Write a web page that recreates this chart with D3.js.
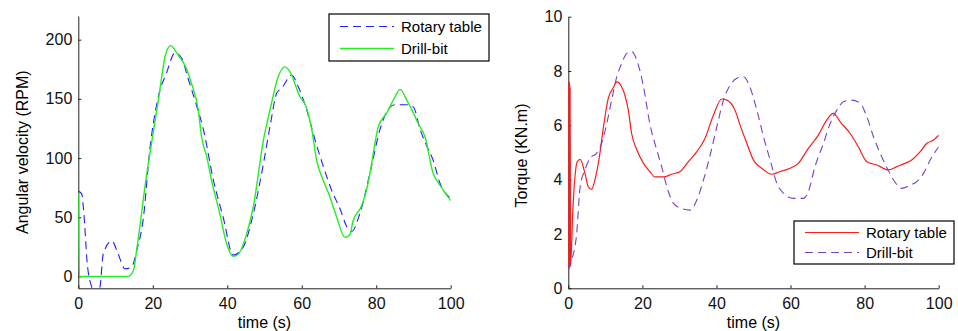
<!DOCTYPE html>
<html>
<head>
<meta charset="utf-8">
<script src="https://cdn.jsdelivr.net/npm/d3@7"></script>
<style>
  body { margin: 0; background: #fff; }
  svg { display: block; font-family: "Liberation Sans", Arial, sans-serif; }
  .axis path, .axis line { stroke: #222; }
  .axis text { font-size: 16px; fill: #111; }
</style>
</head>
<body>
<svg id="chart" width="958" height="331"></svg>
<script>
// left panel: angular velocity (RPM)
const rotaryVel = [[0,72],[0.9,70],[1.5,53],[2.4,11],[3.6,-9],[4.6,-16],[5.8,-9],[6.7,19],[9,30],[10.7,19],[12.5,6.5],[14.3,8],[15.7,22],[17.5,50],[19.2,107],[21.5,152],[23.7,172],[26,189],[27.8,184],[29.5,167],[31.8,144],[33.6,124],[36.3,81],[38.9,50],[41.6,18],[44.3,25],[47,53],[49.7,95],[51.5,127],[53.3,155],[54.6,159],[57.3,170],[59.1,160],[61.3,141],[63.6,115],[65.8,93],[68,73],[70.3,57],[72.1,42],[73.4,38],[75.6,53],[78.3,87],[81,124],[83.7,143],[85,145],[88.2,145],[90,143],[91.8,124],[93.6,110],[95.3,98],[97.1,79],[100,66]];
const drillVel = [[0,70],[0.3,0],[13.4,0],[14.8,5],[15.7,23],[18.4,87],[20.1,121],[21.5,149],[22.8,177],[23.3,186],[24.8,195],[26.4,189],[29.1,175],[30.4,163],[32.2,141],[33.1,118],[34.5,101],[35.8,81],[38,53],[39.8,28],[41.6,17],[43,19],[45.2,36],[47,59],[49.7,115],[51.5,141],[53.7,169],[55.5,177],[56.8,173],[59.5,152],[61.1,144],[62.7,124],[64,98],[65.8,81],[67.6,67],[69.4,50],[71.6,33],[73,36],[73.7,46],[76.1,60],[77.4,73],[78.3,87],[80.6,127],[82.8,138],[85.1,152],[86.4,158],[88.2,149],[90,138],[91.3,129],[93.1,118],[95.3,87],[96.7,79],[98,73],[100,64]];

// right panel: torque (KN.m)
const rotaryTorque = [[0,7.6],[0.05,0.8],[0.1,7.6],[0.15,0.8],[0.2,7.6],[0.25,0.8],[0.3,7.6],[0.35,0.8],[0.4,7.5],[0.45,0.8],[0.5,7.4],[0.6,0.8],[1.2,2.8],[2.4,4.66],[3.2,4.75],[4.5,4.23],[5.4,3.74],[6.3,3.64],[7.2,4],[8.4,4.85],[9.5,5.95],[10.8,7.0],[12.2,7.4],[13.1,7.6],[14.4,7.42],[15.3,7.1],[16.2,6.56],[17.1,5.7],[18.5,5.1],[20.3,4.6],[22,4.3],[23.4,4.1],[25.7,4.1],[27.9,4.2],[30.2,4.3],[32.4,4.66],[34.7,5.03],[36.9,5.52],[39.2,6.38],[41.4,6.97],[42.8,6.93],[45,6.56],[46.4,6.0],[48.2,5.34],[50,4.72],[52.2,4.42],[54.9,4.2],[57.2,4.3],[59.9,4.42],[62.1,4.6],[64.8,5.15],[67.5,5.64],[69.8,6.2],[71.6,6.44],[73.4,6.13],[76.1,5.7],[78.3,5.21],[80.6,4.66],[83.3,4.54],[86.4,4.36],[88.7,4.48],[90.9,4.6],[92.7,4.72],[95,5.03],[96.8,5.34],[98.6,5.46],[100,5.64]];
const drillTorque = [[0,0.67],[0.9,1.04],[2.25,2.0],[3.2,3.74],[4.5,4.36],[5.9,4.79],[7.6,4.97],[9,5.34],[10.4,6.07],[11.7,6.93],[13.1,7.79],[14.4,8.28],[15.8,8.65],[17.1,8.71],[18.5,8.4],[20.3,7.42],[22,6.07],[23.9,5.09],[25.2,4.48],[26.6,3.74],[28.4,3.13],[30.6,2.94],[32.9,2.88],[34.7,3.25],[36.5,3.99],[38.2,4.85],[40.1,5.95],[41.9,6.93],[43.7,7.48],[45.5,7.73],[47.3,7.79],[49,7.42],[50.9,6.56],[52.7,5.58],[54.5,4.72],[56.3,3.87],[58.1,3.5],[60.8,3.31],[63.5,3.31],[64.8,3.56],[66.6,4.48],[68.9,5.34],[70.7,6.07],[72.5,6.56],[74.3,6.87],[76.5,6.93],[78.8,6.81],[80.6,6.32],[82.4,5.58],[84.2,4.97],[85.9,4.48],[87.8,3.99],[90,3.68],[92.3,3.8],[94.1,3.93],[95.9,4.23],[97.7,4.72],[100,5.21]];

const xTicks = [0, 20, 40, 60, 80, 100];
const velTicks = [0, 50, 100, 150, 200];
const torqueTicks = [0, 2, 4, 6, 8, 10];
const legendNames = ["Rotary table", "Drill-bit"];

const svg = d3.select("#chart");

function drawPanel(opts) {
  const g = svg.append("g");
  const x = d3.scaleLinear().domain([0, 100]).range([opts.left, opts.right]);
  const y = d3.scaleLinear().domain(opts.yDomain).range([opts.bottom, opts.top]);

  const clipId = "clip-" + opts.id;
  g.append("clipPath").attr("id", clipId)
    .append("rect")
    .attr("x", opts.left).attr("y", opts.top)
    .attr("width", opts.right - opts.left).attr("height", opts.bottom - opts.top);

  g.append("g").attr("class", "axis")
    .attr("transform", `translate(0,${opts.bottom})`)
    .call(d3.axisBottom(x).tickValues(xTicks).tickSizeInner(-3).tickSizeOuter(0).tickPadding(6))
    .call(a => a.selectAll("text").attr("dy", "0.95em"));

  g.append("g").attr("class", "axis")
    .attr("transform", `translate(${opts.left},0)`)
    .call(d3.axisLeft(y).tickValues(opts.yTicks).tickSizeInner(-3).tickSizeOuter(0).tickPadding(6));

  const line = d3.line().x(d => x(d[0])).y(d => y(d[1])).curve(d3.curveMonotoneX);
  const lines = g.append("g").attr("clip-path", `url(#${clipId})`);
  opts.series.forEach(s => {
    lines.append("path")
      .datum(s.data)
      .attr("d", line)
      .attr("fill", "none")
      .attr("stroke", s.color)
      .attr("stroke-width", s.width)
      .attr("stroke-dasharray", s.dash || null);
  });

  g.append("text")
    .attr("x", (opts.left + opts.right) / 2).attr("y", 328)
    .attr("text-anchor", "middle").attr("font-size", 16)
    .text("time (s)");

  g.append("text")
    .attr("transform", `translate(${opts.labelX},${(opts.top + opts.bottom) / 2 + opts.labelDy}) rotate(-90)`)
    .attr("text-anchor", "middle").attr("dominant-baseline", "central")
    .attr("font-size", 16)
    .text(opts.yLabel);

  // legend
  const lg = g.append("g");
  const L = opts.legend;
  lg.append("rect")
    .attr("x", L.x).attr("y", L.y).attr("width", L.w).attr("height", L.h)
    .attr("fill", "#fff").attr("stroke", "#000").attr("stroke-width", 1.2);
  opts.series.forEach((s, i) => {
    const yy = L.y + L.row0 + i * L.rowGap;
    lg.append("line")
      .attr("x1", L.x + 11).attr("x2", L.x + 65).attr("y1", yy).attr("y2", yy)
      .attr("stroke", s.color).attr("stroke-width", s.width)
      .attr("stroke-dasharray", s.dash || null);
    lg.append("text")
      .attr("x", L.x + 72).attr("y", yy)
      .attr("dominant-baseline", "central").attr("font-size", 15)
      .text(legendNames[i]);
  });
}

drawPanel({
  id: "vel", left: 78.3, right: 450.7, top: 16, bottom: 288.3,
  yDomain: [-10, 220], yTicks: velTicks,
  yLabel: "Angular velocity (RPM)", labelX: 22, labelDy: 0,
  series: [
    { data: rotaryVel, color: "#1f1fff", width: 1.1, dash: "8,5" },
    { data: drillVel, color: "#22ee22", width: 1.4 }
  ],
  legend: { x: 329, y: 14, w: 160, h: 47, row0: 12.5, rowGap: 22 }
});

drawPanel({
  id: "torque", left: 568.3, right: 938.7, top: 16.7, bottom: 288.3,
  yDomain: [0, 10], yTicks: torqueTicks,
  yLabel: "Torque (KN.m)", labelX: 521, labelDy: 3,
  series: [
    { data: rotaryTorque, color: "#ff1a1a", width: 1.2 },
    { data: drillTorque, color: "#7a3fc8", width: 1.1, dash: "8,5" }
  ],
  legend: { x: 794, y: 221, w: 160, h: 43, row0: 11.5, rowGap: 20 }
});
</script>
</body>
</html>
